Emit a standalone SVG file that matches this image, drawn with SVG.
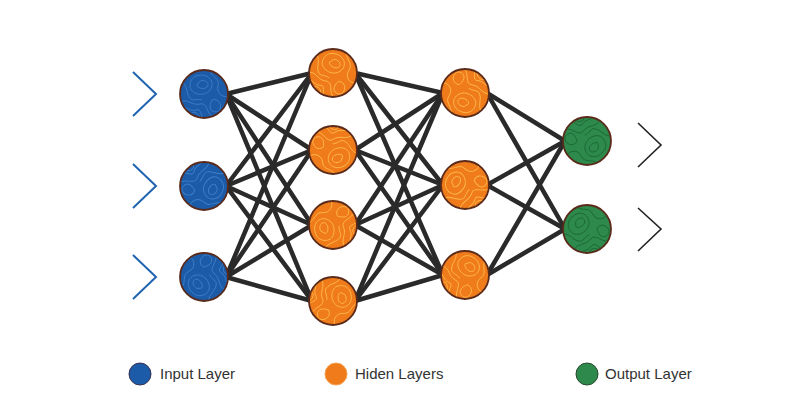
<svg xmlns="http://www.w3.org/2000/svg" width="800" height="400" viewBox="0 0 800 400">
<style>
.edge{stroke:#2a2a2a;stroke-width:4.5;stroke-linecap:round;fill:none}
.node{stroke:#5a2a1a;stroke-width:1.8}
.in{fill:#1b5ba8}
.hid{fill:#f07b1b}
.out{fill:#2d8a4c}
.cin{stroke:#3f7fc8;stroke-width:0.9;fill:none}
.chid{stroke:#fcb84a;stroke-width:0.9;fill:none}
.cout{stroke:#1d6636;stroke-width:0.9;fill:none}
.chev-in{stroke:#1f64b0;stroke-width:2;fill:none}
.chev-out{stroke:#222;stroke-width:1.6;fill:none}
.lbl{font-family:"Liberation Sans",Arial,sans-serif;font-size:15px;fill:#333}
</style>
<defs>
<clipPath id="cc"><circle cx="0" cy="0" r="23"/></clipPath>
<g id="topo">
<path d="M-8,-18 C4,-22 12,-12 6,-4 C0,4 -14,0 -14,-8 C-14,-13 -12,-16 -8,-18Z"/>
<path d="M-4,-13 C2,-15 6,-10 3,-7 C0,-4 -7,-6 -7,-9Z"/>
<path d="M-24,8 C-16,4 -12,12 -4,10 C4,8 2,20 10,24"/>
<path d="M-24,14 C-18,12 -14,18 -8,16 C-2,14 -4,22 0,26"/>
<path d="M6,-24 C8,-16 16,-16 14,-8 C12,0 20,4 24,2"/>
<path d="M-22,-12 C-16,-8 -18,0 -14,4 C-12,8 -6,4 -2,6"/>
<path d="M8,6 C14,4 18,10 16,15 C14,20 6,18 6,13 C6,10 7,8 8,6Z"/>
<path d="M-14,22 C-12,16 -6,18 -4,24"/>
</g>
</defs>

<g id="connectors">
<line class="edge" x1="226" y1="94" x2="312" y2="73"/>
<line class="edge" x1="226" y1="94" x2="312" y2="150"/>
<line class="edge" x1="226" y1="94" x2="312" y2="225"/>
<line class="edge" x1="226" y1="94" x2="312" y2="301"/>
<line class="edge" x1="226" y1="186" x2="312" y2="73"/>
<line class="edge" x1="226" y1="186" x2="312" y2="150"/>
<line class="edge" x1="226" y1="186" x2="312" y2="225"/>
<line class="edge" x1="226" y1="186" x2="312" y2="301"/>
<line class="edge" x1="226" y1="277" x2="312" y2="73"/>
<line class="edge" x1="226" y1="277" x2="312" y2="150"/>
<line class="edge" x1="226" y1="277" x2="312" y2="225"/>
<line class="edge" x1="226" y1="277" x2="312" y2="301"/>
<line class="edge" x1="355" y1="73" x2="443" y2="93"/>
<line class="edge" x1="355" y1="73" x2="443" y2="185"/>
<line class="edge" x1="355" y1="73" x2="443" y2="275"/>
<line class="edge" x1="355" y1="150" x2="443" y2="93"/>
<line class="edge" x1="355" y1="150" x2="443" y2="185"/>
<line class="edge" x1="355" y1="150" x2="443" y2="275"/>
<line class="edge" x1="355" y1="225" x2="443" y2="93"/>
<line class="edge" x1="355" y1="225" x2="443" y2="185"/>
<line class="edge" x1="355" y1="225" x2="443" y2="275"/>
<line class="edge" x1="355" y1="301" x2="443" y2="93"/>
<line class="edge" x1="355" y1="301" x2="443" y2="185"/>
<line class="edge" x1="355" y1="301" x2="443" y2="275"/>
<line class="edge" x1="487" y1="93" x2="565" y2="141"/>
<line class="edge" x1="487" y1="93" x2="565" y2="229"/>
<line class="edge" x1="487" y1="185" x2="565" y2="141"/>
<line class="edge" x1="487" y1="185" x2="565" y2="229"/>
<line class="edge" x1="487" y1="275" x2="565" y2="141"/>
<line class="edge" x1="487" y1="275" x2="565" y2="229"/>
</g>

<g id="input-arrows">
<polyline class="chev-in" points="133,72 156,94 133,116"/>
<polyline class="chev-in" points="133,164 156,186 133,208"/>
<polyline class="chev-in" points="133,255 156,277 133,299"/>
</g>

<g id="in1" transform="translate(204,94)"><circle class="node in" r="24"/><g clip-path="url(#cc)"><use href="#topo" class="cin"/></g></g>
<g id="in2" transform="translate(204,186)"><circle class="node in" r="24"/><g clip-path="url(#cc)"><use href="#topo" class="cin" transform="rotate(120)"/></g></g>
<g id="in3" transform="translate(204,277)"><circle class="node in" r="24"/><g clip-path="url(#cc)"><use href="#topo" class="cin" transform="rotate(230)"/></g></g>

<g id="h1a" transform="translate(333,73)"><circle class="node hid" r="24"/><g clip-path="url(#cc)"><use href="#topo" class="chid" transform="rotate(20)"/></g></g>
<g id="h1b" transform="translate(333,150)"><circle class="node hid" r="24"/><g clip-path="url(#cc)"><use href="#topo" class="chid" transform="rotate(160)"/></g></g>
<g id="h1c" transform="translate(333,225)"><circle class="node hid" r="24"/><g clip-path="url(#cc)"><use href="#topo" class="chid" transform="rotate(260)"/></g></g>
<g id="h1d" transform="translate(333,301)"><circle class="node hid" r="24"/><g clip-path="url(#cc)"><use href="#topo" class="chid" transform="rotate(80)"/></g></g>

<g id="h2a" transform="translate(465,93)"><circle class="node hid" r="24"/><g clip-path="url(#cc)"><use href="#topo" class="chid" transform="rotate(200)"/></g></g>
<g id="h2b" transform="translate(465,185)"><circle class="node hid" r="24"/><g clip-path="url(#cc)"><use href="#topo" class="chid" transform="rotate(300)"/></g></g>
<g id="h2c" transform="translate(465,275)"><circle class="node hid" r="24"/><g clip-path="url(#cc)"><use href="#topo" class="chid" transform="rotate(40)"/></g></g>

<g id="out1" transform="translate(587,141)"><circle class="node out" r="24"/><g clip-path="url(#cc)"><use href="#topo" class="cout" transform="rotate(140)"/></g></g>
<g id="out2" transform="translate(587,229)"><circle class="node out" r="24"/><g clip-path="url(#cc)"><use href="#topo" class="cout" transform="rotate(320)"/></g></g>

<g id="output-arrows">
<polyline class="chev-out" points="638,123 661,145 638,167"/>
<polyline class="chev-out" points="638,208 661,229 638,251"/>
</g>

<g id="legend">
<circle cx="140" cy="374" r="11" fill="#1b5ba8" stroke="#3a3050" stroke-width="1"/>
<text class="lbl" x="160" y="379">Input Layer</text>
<circle cx="336" cy="374" r="11" fill="#f07b1b" stroke="#f6a050" stroke-width="1"/>
<text class="lbl" x="355" y="379">Hiden Layers</text>
<circle cx="587" cy="374" r="11" fill="#2d8a4c" stroke="#2a4a30" stroke-width="1"/>
<text class="lbl" x="605" y="379">Output Layer</text>
</g>
</svg>
